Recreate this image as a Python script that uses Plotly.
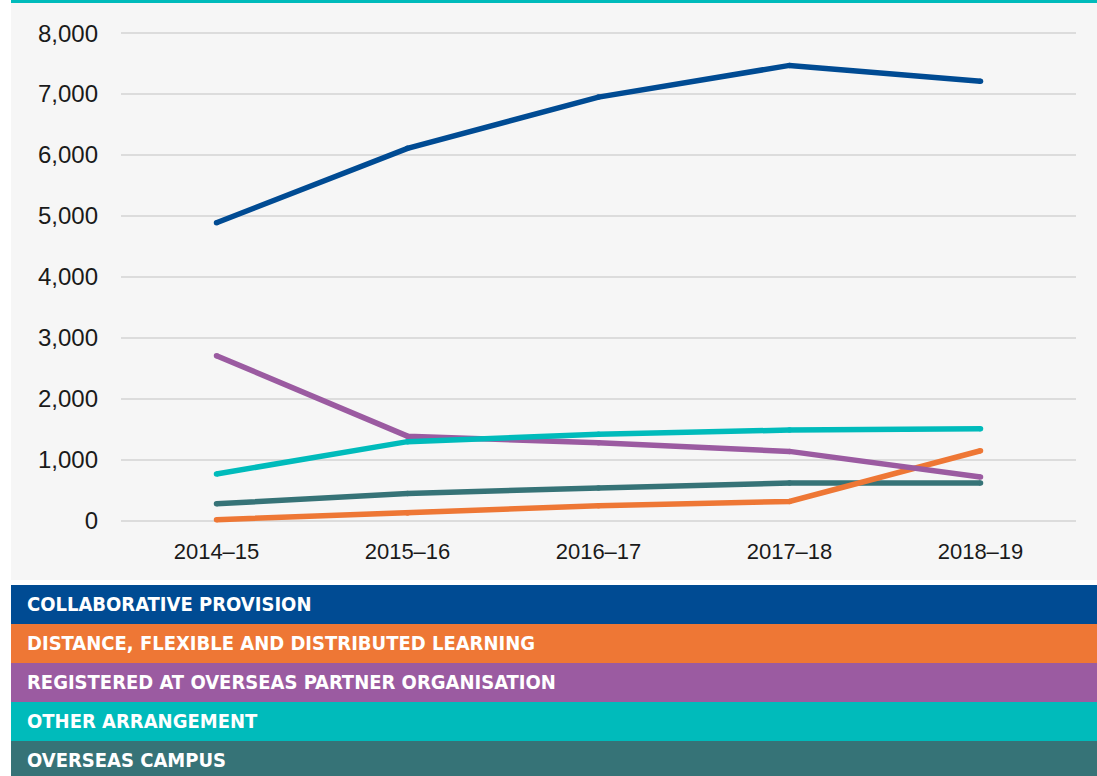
import plotly.graph_objects as go

years = ["2014–15", "2015–16", "2016–17", "2017–18", "2018–19"]
series_names = [
    "COLLABORATIVE PROVISION",
    "DISTANCE, FLEXIBLE AND DISTRIBUTED LEARNING",
    "REGISTERED AT OVERSEAS PARTNER ORGANISATION",
    "OTHER ARRANGEMENT",
    "OVERSEAS CAMPUS",
]
collaborative = [4890, 6110, 6950, 7470, 7210]
distance = [20, 130, 250, 320, 1150]
registered = [2710, 1390, 1280, 1140, 720]
other = [770, 1300, 1420, 1490, 1510]
overseas_campus = [280, 450, 540, 620, 620]
y_ticks = [0, 1000, 2000, 3000, 4000, 5000, 6000, 7000, 8000]

colors = ["#004B93", "#EE7735", "#9B5BA1", "#00BBBB", "#367377"]
values = [collaborative, distance, registered, other, overseas_campus]

W, H = 1097, 776
L, R, T, B = 121, 1076, 27, 527
pw, ph = R - L, B - T


def px(x):
    return (x - L) / pw


def py(y):
    return (B - y) / ph


fig = go.Figure()
order = [4, 1, 2, 3, 0]
for i in order:
    fig.add_trace(go.Scatter(
        x=years, y=values[i], name=series_names[i], mode="lines+markers",
        line=dict(color=colors[i], width=5.5),
        marker=dict(color=colors[i], size=5.5),
        showlegend=False, hoverinfo="x+y+name",
    ))

shapes = [
    dict(type="rect", xref="paper", yref="paper", x0=px(11), x1=px(W), y0=py(580), y1=py(3),
         fillcolor="#F6F6F6", line=dict(width=0), layer="below"),
    dict(type="rect", xref="paper", yref="paper", x0=px(11), x1=px(W), y0=py(3), y1=py(0),
         fillcolor="#00BBBB", line=dict(width=0), layer="below"),
]
annotations = []
top = 585
hgt = 39
for k, name in enumerate(series_names):
    y0 = top + k * hgt
    y1 = min(y0 + hgt, H + 4)
    shapes.append(dict(type="rect", xref="paper", yref="paper", x0=px(11), x1=px(W),
                       y0=py(y1), y1=py(y0), fillcolor=colors[k], line=dict(width=0)))
    annotations.append(dict(
        text="<b>" + name + "</b>", xref="paper", yref="paper", x=px(25), y=py(y0 + 19),
        xanchor="left", yanchor="middle", showarrow=False,
        font=dict(family="Liberation Sans Narrow, DejaVu Sans Condensed, Roboto Condensed, Arial Narrow, sans-serif",
                  size=20, color="white"),
    ))

fig.update_layout(
    width=W, height=H,
    margin=dict(l=L, r=W - R, t=T, b=H - B, pad=0),
    paper_bgcolor="white", plot_bgcolor="rgba(0,0,0,0)",
    shapes=shapes, annotations=annotations,
    font=dict(family="Liberation Sans, Arial, sans-serif", color="#1a1a1a"),
    xaxis=dict(type="category", range=[-0.5, 4.5], showgrid=False, zeroline=False,
               showline=False, ticks="", tickfont=dict(size=22), ticklabelstandoff=9),
    yaxis=dict(range=[-100, 8100], tickvals=y_ticks, tickformat=",d", showgrid=True,
               gridcolor="#DCDCDC", gridwidth=2, zeroline=False, showline=False, ticks="",
               tickfont=dict(size=24), ticklabelstandoff=22),
)

fig.write_html("out.html", config={"displayModeBar": False},
               post_script="document.body.style.margin='0';document.body.style.overflow='hidden';")
